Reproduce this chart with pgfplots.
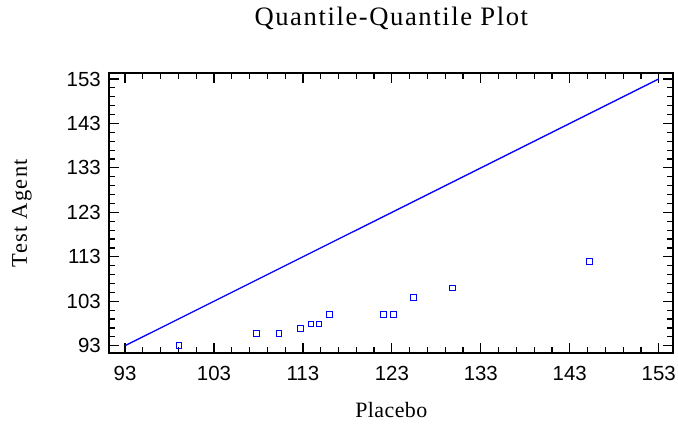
\documentclass[border=0pt]{standalone}
\usepackage{fontspec}
\setmainfont{Liberation Serif}
\newfontfamily\tickfont{Liberation Sans}
\newfontfamily\titlefont{Liberation Serif}[LetterSpace=6]
\newfontfamily\ylabfont{Liberation Serif}[LetterSpace=6]
\newfontfamily\xlabfont{Liberation Serif}[LetterSpace=2]
\usepackage{pgfplots}
\pgfplotsset{compat=1.18}
\definecolor{qblue}{RGB}{0,0,255}
\begin{document}
\begin{tikzpicture}
\useasboundingbox (-109.3bp,-70.7bp) rectangle (568.7bp,353.3bp);
\begin{axis}[
 at={(0,0)}, anchor=south west,
 scale only axis, width=564bp, height=280bp,
 xmin=91.23, xmax=154.64, ymin=91.29, ymax=154.28,
 xtick={93,103,...,153}, ytick={93,103,...,153},
 minor tick num=4,
 tick align=inside,
 major tick length=10bp, minor tick length=6bp,
 axis line style={line width=1.8bp},
 every tick/.style={black, line width=1.2bp},
 ticklabel style={font=\tickfont\fontsize{20.5}{20.5}\selectfont},
 /pgf/number format/assume math mode=true,
 xticklabel style={yshift=-9bp},
 yticklabel style={xshift=-5bp},
 title={\titlefont\fontsize{26.7}{30}\selectfont Quantile-Quantile Plot},
 title style={at={(axis description cs:0.5,1)}, anchor=base, yshift=42.3bp, inner sep=0pt},
 xlabel={\xlabfont\fontsize{22}{24}\selectfont Placebo},
 xlabel style={at={(axis description cs:0.5,0)}, anchor=base, yshift=-64.4bp, inner sep=0pt},
 ylabel={\ylabfont\fontsize{22.5}{24}\selectfont Test Agent},
 ylabel style={at={(axis description cs:0,0.5)}, anchor=base, yshift=82.3bp, inner sep=0pt},
]
\addplot[qblue, line width=1.3bp] coordinates {(93,93) (153,153)};
\addplot[only marks, mark=square, mark size=2.9bp, mark options={qblue, line width=1bp}] coordinates {
(99.07,93.0)
(107.8,95.8)
(110.3,95.8)
(112.7,96.8)
(113.9,97.9)
(114.8,97.9)
(116.0,100.0)
(122.1,100.0)
(123.2,100.0)
(125.45,103.9)
(129.8,106.0)
(145.2,111.9)
};
\end{axis}
\end{tikzpicture}
\end{document}
